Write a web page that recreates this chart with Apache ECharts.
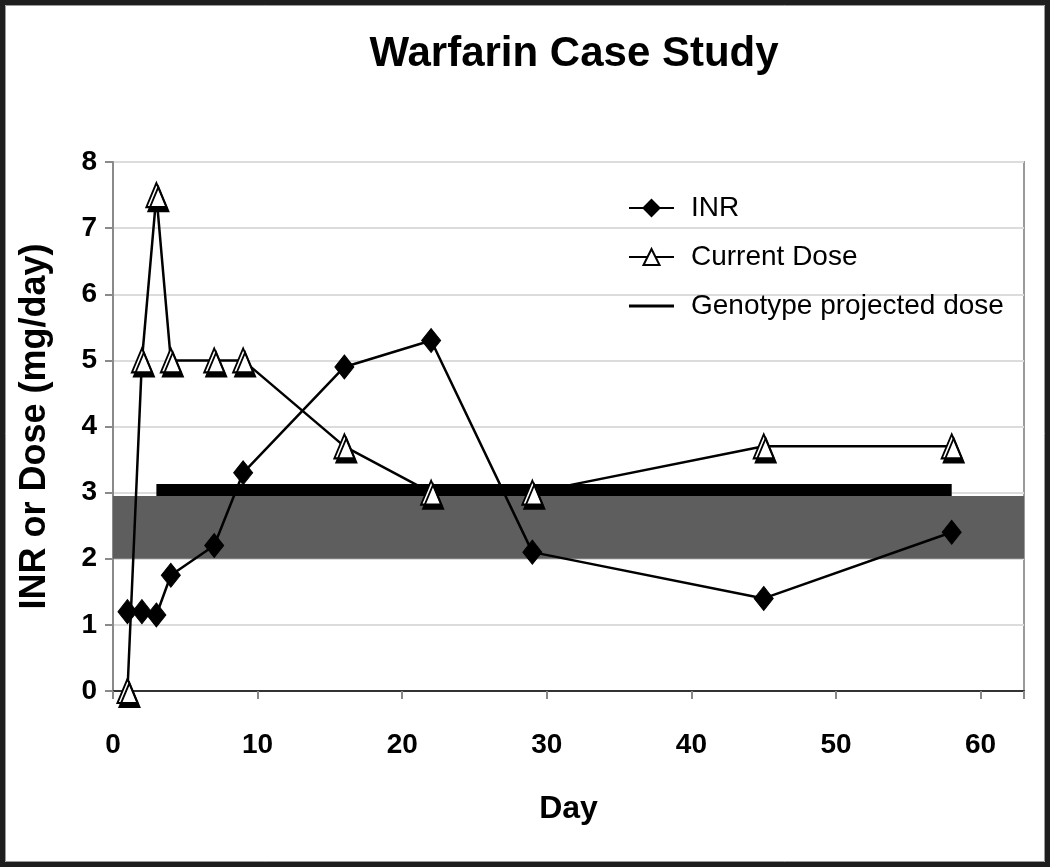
<!DOCTYPE html>
<html>
<head>
<meta charset="utf-8">
<script src="https://cdn.jsdelivr.net/npm/echarts@6/dist/echarts.min.js"></script>
<style>
html,body{margin:0;padding:0;background:#fff;}
#chart{width:1050px;height:867px;}
</style>
</head>
<body>
<div id="chart"></div>
<script>
// ---- data ----
const days = [1, 2, 3, 4, 7, 9, 16, 22, 29, 45, 58];
const inrValues = [1.2, 1.2, 1.15, 1.75, 2.2, 3.3, 4.9, 5.3, 2.1, 1.4, 2.4];
const doseValues = [0, 5, 7.5, 5, 5, 5, 3.7, 3.0, 3.0, 3.7, 3.7];
const genotypeDays = [3, 58];
const genotypeDose = [3.04, 3.04];
const targetRange = [2, 2.95];
const seriesNames = ['INR', 'Current Dose', 'Genotype projected dose'];
const titleText = 'Warfarin Case Study';
const xName = 'Day';
const yName = 'INR or Dose (mg/day)';

const FONT = '"Liberation Sans", Arial, sans-serif';
const pair = (xs, ys) => xs.map((x, i) => [x, ys[i]]);

const chart = echarts.init(document.getElementById('chart'), null, {renderer: 'canvas'});
chart.setOption({
  animation: false,
  backgroundColor: '#fff',
  title: {
    text: titleText, left: 569, top: 28, textAlign: 'center',
    textStyle: {fontFamily: FONT, fontSize: 42, fontWeight: 'bold', color: '#000'}
  },
  legend: {
    orient: 'vertical', left: 623, top: 189,
    itemWidth: 45, itemHeight: 20, itemGap: 21,
    textStyle: {fontFamily: FONT, fontSize: 28, color: '#000', lineHeight: 28, padding: [0, 0, 0, 12]},
    data: [
      {name: seriesNames[0]},
      {name: seriesNames[1]},
      {name: seriesNames[2], icon: 'path://M0,0L45,0L45,3L0,3Z', itemStyle: {color: '#000'}}
    ]
  },
  grid: {
    left: 113, right: 26, top: 162, bottom: 176,
    show: true, borderColor: '#9a9a9a', borderWidth: 2, backgroundColor: '#fff'
  },
  xAxis: {
    type: 'value', min: 0, max: 63, interval: 10,
    name: xName, nameLocation: 'middle', nameGap: 102,
    nameTextStyle: {fontFamily: FONT, fontSize: 32, fontWeight: 'bold', color: '#000'},
    axisLine: {show: true, lineStyle: {color: '#333', width: 2}},
    axisTick: {show: true, length: 8, lineStyle: {color: '#888', width: 2}},
    axisLabel: {
      margin: 40, fontFamily: FONT, fontSize: 28, fontWeight: 'bold', color: '#000',
      formatter: v => (v % 10 === 0 ? String(v) : '')
    },
    splitLine: {show: false}
  },
  yAxis: {
    type: 'value', min: 0, max: 8, interval: 1,
    name: yName, nameLocation: 'middle', nameGap: 60, nameRotate: 90,
    nameTextStyle: {fontFamily: FONT, fontSize: 36, fontWeight: 'bold', color: '#000'},
    axisLine: {show: true, lineStyle: {color: '#8a8a8a', width: 2}},
    axisTick: {show: true, length: 8, lineStyle: {color: '#8a8a8a', width: 2}},
    axisLabel: {margin: 16, fontFamily: FONT, fontSize: 28, fontWeight: 'bold', color: '#000'},
    splitLine: {show: true, lineStyle: {color: '#dcdcdc', width: 2}}
  },
  series: [
    {
      type: 'line', data: [], silent: true, z: 1,
      markArea: {
        silent: true,
        itemStyle: {color: '#5e5e5e'},
        data: [[{yAxis: targetRange[0]}, {yAxis: targetRange[1]}]]
      }
    },
    {
      name: seriesNames[2], type: 'line', z: 2,
      data: pair(genotypeDays, genotypeDose),
      symbol: 'none',
      lineStyle: {color: '#000', width: 12, cap: 'butt'},
      itemStyle: {color: '#000'}
    },
    {
      name: seriesNames[0], type: 'line', z: 3,
      data: pair(days, inrValues),
      symbol: 'diamond', symbolSize: [19, 24],
      lineStyle: {color: '#000', width: 2.5},
      itemStyle: {color: '#000', borderColor: '#000', borderWidth: 1}
    },
    {
      name: seriesNames[1], type: 'line', z: 4,
      data: pair(days, doseValues),
      symbol: 'triangle', symbolSize: [20, 24],
      lineStyle: {color: '#000', width: 2.5},
      itemStyle: {
        color: '#fff', borderColor: '#000', borderWidth: 2,
        shadowColor: '#000', shadowOffsetX: 2, shadowOffsetY: 4, shadowBlur: 0
      }
    }
  ],
  graphic: [
    {
      type: 'rect', silent: true, z: 100,
      shape: {x: 2.5, y: 2.5, width: 1045, height: 862},
      style: {fill: 'none', stroke: '#1e1e1e', lineWidth: 5}
    },
    {
      type: 'rect', silent: true, z: 100,
      shape: {x: 5.5, y: 5.5, width: 1039, height: 856},
      style: {fill: 'none', stroke: '#9a9a9a', lineWidth: 1}
    }
  ]
});
</script>
</body>
</html>
